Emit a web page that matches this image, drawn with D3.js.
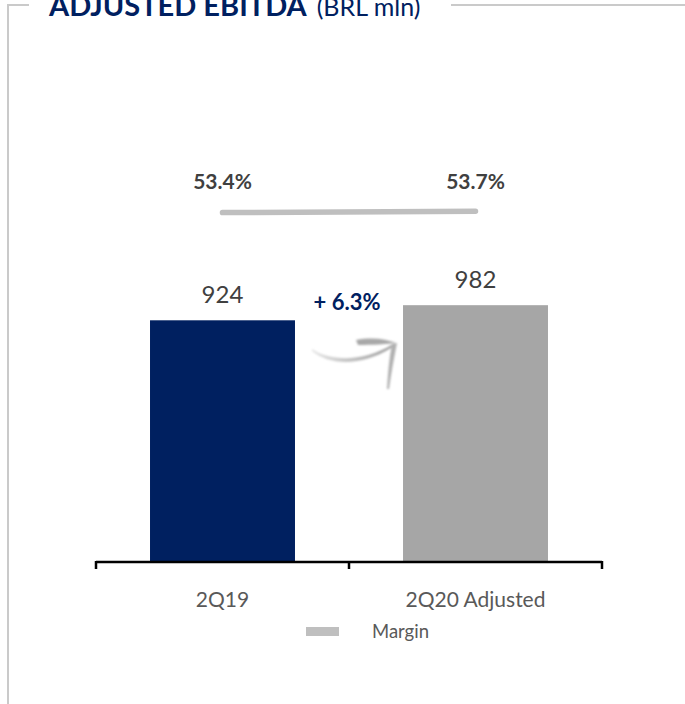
<!DOCTYPE html>
<html>
<head>
<meta charset="utf-8">
<script src="https://cdn.jsdelivr.net/npm/d3@7"></script>
<style>
  html, body { margin: 0; padding: 0; background: #fff; }
  svg { display: block; font-family: Lato, "Open Sans", sans-serif; }
</style>
</head>
<body>
<svg id="chart" width="685" height="704"></svg>
<script>
// Adjusted EBITDA by quarter (BRL mln) and EBITDA margin (%)
const categories = ["2Q19", "2Q20 Adjusted"];
const ebitda = [924, 982];
const margin = [53.4, 53.7];
const growthLabel = "+ 6.3%";
const legendLabels = ["Margin"];

const navy = "#002060";
const barFill = [navy, "#A6A6A6"];
const marginColor = "#BFBFBF";
const frameColor = "#CACACA";

const svg = d3.select("#chart");

// Panel frame with the title breaking the top edge
const frame = svg.append("g").attr("fill", "none").attr("stroke", frameColor).attr("stroke-width", 2);
frame.append("path").attr("d", "M8,704V5H29");
frame.append("path").attr("d", "M451,5H685");

const title = svg.append("text").attr("x", 49).attr("y", 16).attr("fill", navy);
title.append("tspan").attr("font-weight", 700).attr("font-size", 29).text("ADJUSTED EBITDA");
title.append("tspan").attr("font-size", 25).attr("dx", 10).text("(BRL mln)");

// Scales
const xAxisScale = d3.scaleBand().domain(categories).range([96, 602]);
const xBar = d3.scaleBand().domain(categories).range([96, 602])
  .paddingInner(0.427).paddingOuter(0.2135);
const y = d3.scaleLinear().domain([0, 2000]).range([561, 40]);
const yMargin = d3.scaleLinear().domain([0, 100]).range([462, -5]);
const cx = c => xBar(c) + xBar.bandwidth() / 2;

// Bars
svg.append("g").selectAll("rect").data(categories).join("rect")
  .attr("x", d => xBar(d))
  .attr("width", xBar.bandwidth())
  .attr("y", (d, i) => y(ebitda[i]))
  .attr("height", (d, i) => y(0) - y(ebitda[i]))
  .attr("fill", (d, i) => barFill[i]);

// Value labels
svg.append("g").selectAll("text").data(categories).join("text")
  .attr("x", d => cx(d))
  .attr("y", (d, i) => y(ebitda[i]) - 17)
  .attr("text-anchor", "middle")
  .attr("font-size", 24)
  .attr("fill", "#404040")
  .text((d, i) => d3.format("d")(ebitda[i]));

// Margin line and labels
const line = d3.line().x((d, i) => cx(categories[i])).y(d => yMargin(d));
svg.append("path").datum(margin)
  .attr("d", line)
  .attr("fill", "none")
  .attr("stroke", marginColor)
  .attr("stroke-width", 5.5)
  .attr("stroke-linecap", "round");

svg.append("g").selectAll("text").data(margin).join("text")
  .attr("x", (d, i) => cx(categories[i]))
  .attr("y", 189)
  .attr("text-anchor", "middle")
  .attr("font-size", 21)
  .attr("font-weight", 700)
  .attr("fill", "#404040")
  .text(d => d3.format(".1f")(d) + "%");

// Growth callout and brush-style arrow between the bars
svg.append("text")
  .attr("x", (cx(categories[0]) + cx(categories[1])) / 2 - 2)
  .attr("y", 310)
  .attr("text-anchor", "middle")
  .attr("font-size", 22)
  .attr("font-weight", 700)
  .attr("fill", navy)
  .text(growthLabel);

const defs = svg.append("defs");
const grad = defs.append("linearGradient").attr("id", "arrowGrad")
  .attr("x1", "0%").attr("x2", "100%").attr("y1", "0%").attr("y2", "0%");
grad.append("stop").attr("offset", "0%").attr("stop-color", "#e4e4e4");
grad.append("stop").attr("offset", "100%").attr("stop-color", "#9a9a9a");
defs.append("filter").attr("id", "soft").append("feGaussianBlur").attr("stdDeviation", 0.9);

const arrow = svg.append("g").attr("filter", "url(#soft)");
arrow.append("path")
  .attr("d", "M312,349 C330,362 365,362 393,344 L391,348 C362,366 330,366 312,351 Z")
  .attr("fill", "url(#arrowGrad)");
arrow.append("path")
  .attr("d", "M356,340 C372,337 386,339 396,343 C388,344 372,345 358,345 Z")
  .attr("fill", "#a8a8a8");
arrow.append("path")
  .attr("d", "M392,344 L397,343 C394,358 391,374 389,389 L387,389 C388,374 389,358 392,344 Z")
  .attr("fill", "#b0b0b0");

// Category axis: baseline with ticks at band boundaries
const bounds = categories.map(c => xAxisScale(c)).concat([xAxisScale.range()[1]]);
let axisD = "";
bounds.forEach((b, i) => { axisD += (i ? "L" : "M") + b + ",562"; });
svg.append("path")
  .attr("d", axisD)
  .attr("fill", "none").attr("stroke", "#000").attr("stroke-width", 2.5);
svg.append("g").selectAll("line").data(bounds).join("line")
  .attr("x1", d => d).attr("x2", d => d)
  .attr("y1", 561).attr("y2", 569)
  .attr("stroke", "#000").attr("stroke-width", 2.5);

const xAxis = svg.append("g")
  .attr("transform", "translate(0,562)")
  .call(d3.axisBottom(xAxisScale).tickSize(0).tickPadding(0));
xAxis.select(".domain").remove();
xAxis.selectAll("text")
  .attr("dy", null)
  .attr("y", 45)
  .attr("font-family", "Lato, 'Open Sans', sans-serif")
  .attr("font-size", 21)
  .attr("fill", "#595959");

// Legend
const legend = svg.append("g").selectAll("g").data(legendLabels).join("g");
legend.append("rect")
  .attr("x", 306).attr("y", 627).attr("width", 33).attr("height", 9)
  .attr("fill", marginColor);
legend.append("text")
  .attr("x", 372).attr("y", 638)
  .attr("font-size", 18.5)
  .attr("fill", "#595959")
  .text(d => d);
</script>
</body>
</html>
